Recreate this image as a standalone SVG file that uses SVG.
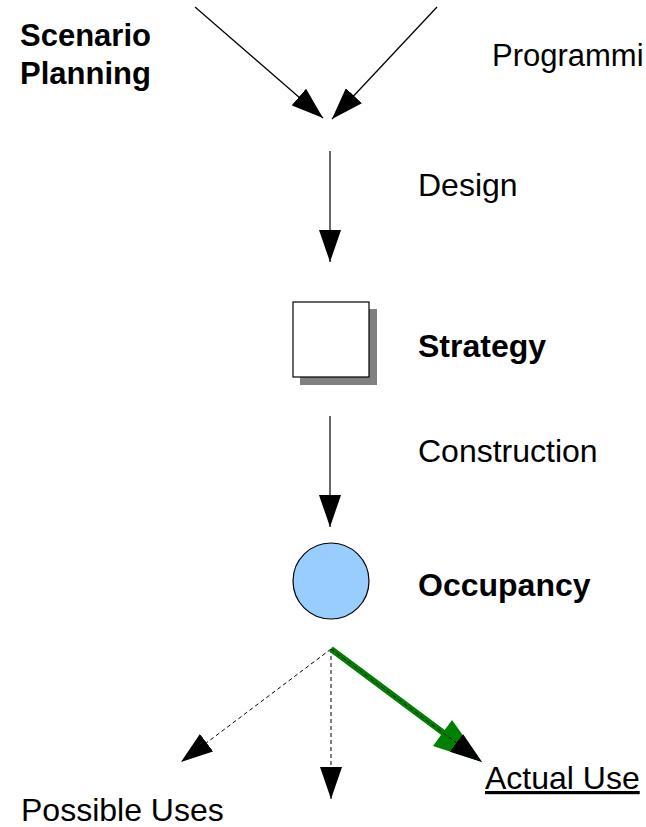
<svg xmlns="http://www.w3.org/2000/svg" width="646" height="827" viewBox="0 0 646 827">
<defs>
<style>
.t{font-family:"Liberation Sans",Arial,sans-serif;font-size:32px;fill:#000}
.b{font-weight:bold}
.s{font-size:31px}
.ln{stroke:#000;stroke-width:1.2;fill:none}
.dash{stroke:#000;stroke-width:1;fill:none;stroke-dasharray:4 3}
</style>
<marker id="ah" markerUnits="userSpaceOnUse" markerWidth="32" markerHeight="22" refX="32" refY="11" orient="auto" viewBox="0 0 32 22">
<path d="M0,0 L32,11 L0,22 z" fill="#000"/>
</marker>
</defs>
<rect width="646" height="827" fill="#fff"/>
<g id="connectors">
<line class="ln" x1="195" y1="7" x2="323" y2="118" marker-end="url(#ah)"/>
<line class="ln" x1="437" y1="7" x2="332" y2="119" marker-end="url(#ah)"/>
<line class="ln" x1="330" y1="151" x2="330" y2="262" marker-end="url(#ah)"/>
<line class="ln" x1="330" y1="416" x2="330" y2="527" marker-end="url(#ah)"/>
<line class="dash" x1="331" y1="649" x2="181" y2="762" marker-end="url(#ah)"/>
<line class="dash" x1="331" y1="649" x2="331" y2="799" marker-end="url(#ah)"/>
<g id="actual-use-arrow">
<line x1="331" y1="649" x2="445" y2="734" stroke="#008000" stroke-width="6"/>
<polygon points="433,746 452,720 482,762" fill="#008000"/>
<line class="dash" x1="331" y1="649" x2="482" y2="762" marker-end="url(#ah)"/>
</g>
</g>
<g id="scenario-planning">
<text class="t b s" x="20" y="46">Scenario</text>
<text class="t b s" x="20" y="84">Planning</text>
</g>
<g id="programming"><text class="t" x="492" y="66" style="font-size:31px">Programmi</text></g>
<g id="design"><text class="t" x="418" y="196">Design</text></g>
<g id="strategy">
<rect x="300" y="309" width="77" height="76" fill="#808080"/>
<rect x="293" y="302" width="76" height="75" fill="#fff" stroke="#000" stroke-width="1.2"/>
<text class="t b" x="418" y="357">Strategy</text>
</g>
<g id="construction"><text class="t" x="418" y="462">Construction</text></g>
<g id="occupancy">
<circle cx="331" cy="581" r="38" fill="#99ccff" stroke="#000" stroke-width="1.2"/>
<text class="t b" x="418" y="596">Occupancy</text>
</g>
<g id="possible-uses"><text class="t" x="21" y="821">Possible Uses</text></g>
<g id="actual-use"><text class="t" x="485" y="789" text-decoration="underline">Actual Use</text></g>
</svg>
